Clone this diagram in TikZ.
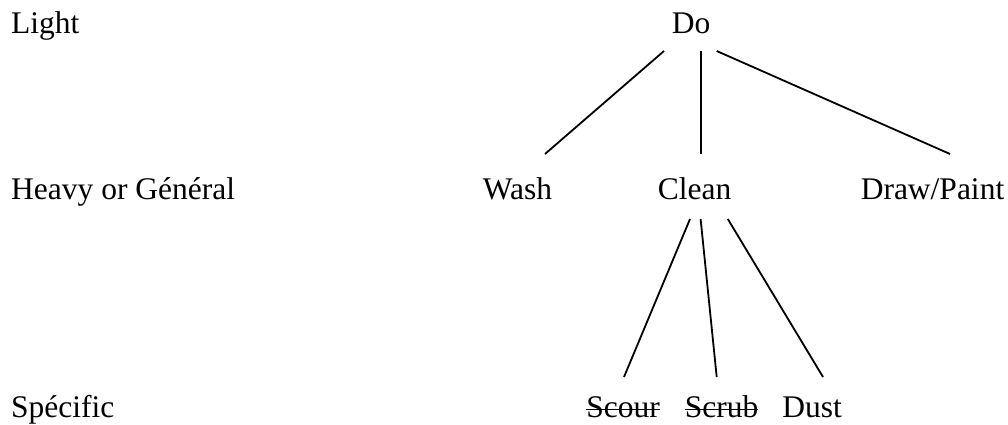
\documentclass[tikz,border=0pt]{standalone}
\usepackage{fontspec}
\setmainfont{Liberation Serif}
\begin{document}
\begin{tikzpicture}[x=1pt,y=-1pt,
  lbl/.style={inner sep=0pt,anchor=base,font=\fontsize{31.5}{36}\selectfont},
  lvl/.style={lbl,anchor=base west},
  edge/.style={line width=1.8pt},
  strike/.style={line width=1.6pt}]
\useasboundingbox (0,0) rectangle (1008,425);
% level labels
\node[lvl] (light) at (11,34) {Light};
\node[lvl] (heavy) at (11,199) {Heavy or Général};
\node[lvl] (spec) at (11,417) {Spécific};
% tree nodes
\node[lbl] (do) at (691,34) {Do};
\node[lbl] (wash) at (517.5,199) {Wash};
\node[lbl] (clean) at (694.5,199) {Clean};
\node[lbl] (draw) at (932.5,199) {Draw/Paint};
\node[lbl] (scour) at (623,417) {Scour};
\node[lbl] (scrub) at (721.5,417) {Scrub};
\node[lbl] (dust) at (812,417) {Dust};
% connector ends
\coordinate (do-a) at (664,51);
\coordinate (do-b) at (700.7,51);
\coordinate (do-c) at (716.7,51);
\coordinate (wash-t) at (545,154);
\coordinate (clean-t) at (700.7,154);
\coordinate (draw-t) at (950,154);
\coordinate (clean-a) at (690,219);
\coordinate (clean-b) at (700.6,219);
\coordinate (clean-c) at (727.8,219);
\coordinate (scour-t) at (624,377);
\coordinate (scrub-t) at (716.7,377);
\coordinate (dust-t) at (823,377);
\draw[edge] (do-a) -- (wash-t);
\draw[edge] (do-b) -- (clean-t);
\draw[edge] (do-c) -- (draw-t);
\draw[edge] (clean-a) -- (scour-t);
\draw[edge] (clean-b) -- (scrub-t);
\draw[edge] (clean-c) -- (dust-t);
% strike-through
\draw[strike] ([yshift=7.5pt]scour.base west) -- ([yshift=7.5pt]scour.base east);
\draw[strike] ([yshift=7.5pt]scrub.base west) -- ([yshift=7.5pt]scrub.base east);
\end{tikzpicture}
\end{document}
